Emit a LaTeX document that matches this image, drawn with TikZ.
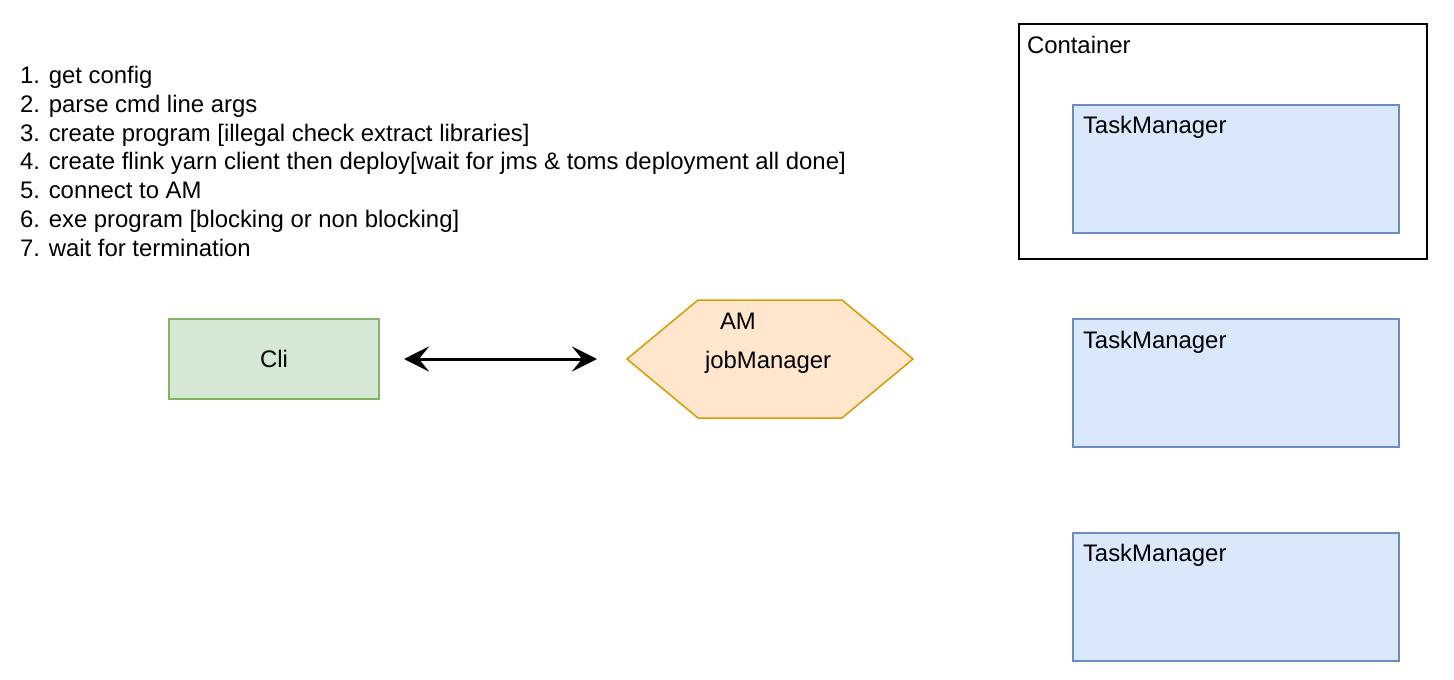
\documentclass[tikz,border=0pt]{standalone}
\usepackage{fontspec}
\setmainfont{Liberation Sans}
\usetikzlibrary{arrows.meta}
\definecolor{gfill}{HTML}{D5E8D4}
\definecolor{gdraw}{HTML}{82B366}
\definecolor{bfill}{HTML}{DAE8FC}
\definecolor{bdraw}{HTML}{6C8EBF}
\definecolor{ofill}{HTML}{FFE6CC}
\definecolor{odraw}{HTML}{D79B00}
\begin{document}
\begin{tikzpicture}[x=1pt,y=-1pt,
  every node/.style={font=\fontsize{23.9}{28}\selectfont, inner sep=0pt, outer sep=0pt},
  txt/.style={anchor=base west},
  clibox/.style={draw=gdraw, fill=gfill, line width=1.5pt, minimum width=210pt, minimum height=80pt},
  tmbox/.style={draw=bdraw, fill=bfill, line width=1.5pt, minimum width=326pt, minimum height=128pt, anchor=north west},
  contbox/.style={draw=black, line width=2pt, minimum width=408pt, minimum height=235pt, anchor=north west},
  hexstyle/.style={draw=odraw, fill=ofill, line width=1.5pt},
  link/.style={line width=3pt, {Stealth[length=25pt,width=25pt,inset=10pt]}-{Stealth[length=25pt,width=25pt,inset=10pt]}}
]
\useasboundingbox (0,0) rectangle (1454,680);

% steps
\node[txt] (l1) at (20,83) {1. get config};
\node[txt] (l2) at (20,112) {2. parse cmd line args};
\node[txt] (l3) at (20,141) {3. create program [illegal check extract libraries]};
\node[txt] (l4) at (20,169) {4. create flink yarn client then deploy[wait for jms \& toms deployment all done]};
\node[txt] (l5) at (20,198) {5. connect to AM};
\node[txt] (l6) at (20,227) {6. exe program [blocking or non blocking]};
\node[txt] (l7) at (20,256) {7. wait for termination};

% container and task managers
\node[contbox] (cont) at (1019,24) {};
\node[txt] (contlabel) at (1027,53) {Container};
\node[tmbox] (tm1) at (1073,105) {};
\node[txt] (tm1label) at (1083,133) {TaskManager};
\node[tmbox] (tm2) at (1073,319) {};
\node[txt] (tm2label) at (1083,348) {TaskManager};
\node[tmbox] (tm3) at (1073,533) {};
\node[txt] (tm3label) at (1083,561) {TaskManager};

% cli
\node[clibox] (cli) at (274,359) {Cli};

% AM hexagon
\node[minimum width=286pt, minimum height=118pt] (am) at (770,359) {};
\draw[hexstyle] (am.west) -- ([xshift=71pt]am.north west) -- ([xshift=-71pt]am.north east)
  -- (am.east) -- ([xshift=-71pt]am.south east) -- ([xshift=71pt]am.south west) -- cycle;
\node[txt] (amlabel) at (720,329) {AM};
\node[txt] (jmlabel) at (705,368) {jobManager};

% connector
\draw[link] ([xshift=25pt]cli.east) -- ([xshift=-30pt]am.west);
\end{tikzpicture}
\end{document}
